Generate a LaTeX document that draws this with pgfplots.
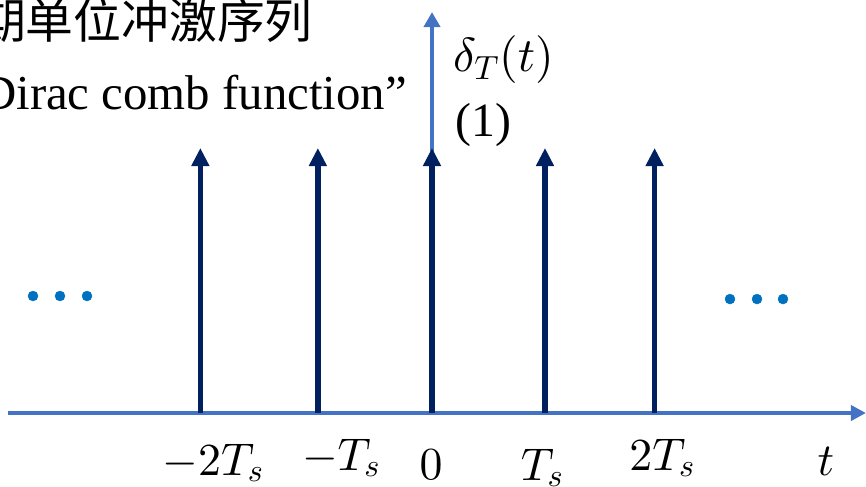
\documentclass[border=0pt]{standalone}
\usepackage{pgfplots}
\pgfplotsset{compat=1.18}
\usepackage{pgfplotstable}
\usepackage{fontspec}
\usetikzlibrary{arrows.meta}
\newfontfamily\cjk{Noto Sans CJK SC}
\newfontfamily\tnr{Liberation Serif}

% make the Computer Modern math fonts freely scalable
\DeclareFontShape{OT1}{cmr}{m}{n}{<->cmr10}{}
\DeclareFontShape{OML}{cmm}{m}{it}{<->cmmi10}{}
\DeclareFontShape{OMS}{cmsy}{m}{n}{<->cmsy10}{}
\DeclareFontShape{OMX}{cmex}{m}{n}{<->cmex10}{}

\definecolor{axisblue}{HTML}{4472C4}
\definecolor{navy}{HTML}{002060}
\definecolor{dotblue}{HTML}{0070C0}

% impulse positions (in units of T_s) and their weights
\pgfplotstableread{
x     y   u   v
-2.05 0   0   1
-1.01 0   0   1
0     0   0   1
1.00  0   0   1
1.97  0   0   1
}\impulses

% continuation dots on both sides
\pgfplotstableread{
x      y
-3.531 0.4415
-3.292 0.4415
-3.053 0.4415
2.637  0.430
2.876  0.430
3.106  0.430
}\dotsdata

\begin{document}
\begin{tikzpicture}
\begin{axis}[
  at={(0,0)}, anchor=south west,
  scale only axis, width=866bp, height=487bp,
  xmin=-3.823, xmax=3.8407,
  ymin=-0.2792, ymax=1.5585,
  hide axis, clip=false,
]
  % coordinate axes
  \addplot[axisblue, line width=4bp, -{Triangle[length=15bp,width=15bp]}]
    coordinates {(-3.75,0) (3.84,0)};
  \addplot[axisblue, line width=4.5bp, -{Triangle[length=15bp,width=16bp]}]
    coordinates {(0,0) (0,1.513)};
  % Dirac impulses
  \addplot[navy, line width=5.5bp, -{Triangle[length=18bp,width=17bp]},
    quiver={u=\thisrow{u}, v=\thisrow{v}}] table[x=x, y=y] {\impulses};
  % dots
  \addplot[only marks, mark=*, mark size=5bp, dotblue,
    mark options={draw=dotblue, fill=dotblue}] table[x=x, y=y] {\dotsdata};
\end{axis}

% titles
\node[anchor=base east, inner sep=0pt, font=\cjk\fontsize{48}{58}\selectfont]
  at (313bp,448.5bp) {周期单位冲激序列};
\node[anchor=base east, inner sep=0pt, font=\tnr\fontsize{49}{59}\selectfont]
  at (407bp,377bp) {“Dirac comb function”};

% axis labels
\node[anchor=base west, inner sep=0pt, font=\fontsize{48}{58}\selectfont]
  at (453bp,415bp) {$\delta_T(t)$};
\node[anchor=base west, inner sep=0pt, font=\tnr\fontsize{48}{58}\selectfont]
  at (455bp,350bp) {(1)};

\begin{scope}[every node/.style={anchor=base, inner sep=0pt, font=\fontsize{46}{56}\selectfont}]
  \node at (213bp,12bp) {$-2T_s$};
  \node at (341bp,17bp) {$-T_s$};
  \node at (431bp,8bp) {$0$};
  \node at (542bp,7bp) {$T_s$};
  \node at (662bp,17bp) {$2T_s$};
  \node at (826bp,12bp) {$t$};
\end{scope}

\pgfresetboundingbox
\path[use as bounding box] (0,0) rectangle (866bp,487bp);
\end{tikzpicture}
\end{document}
